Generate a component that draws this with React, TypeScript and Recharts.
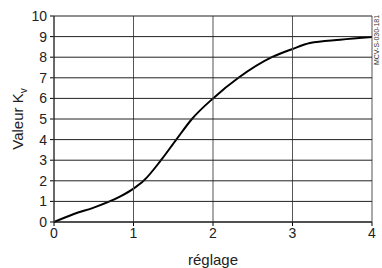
import { Label, Line, LineChart, XAxis, YAxis } from 'recharts';

const settings = [0, 0.25, 0.5, 0.835, 1.0, 1.127, 1.346, 1.538, 1.735, 2.0, 2.32, 2.74, 3.0, 3.22, 3.6, 4.0];
const kvValues = [0, 0.39, 0.7, 1.24, 1.62, 2, 3, 4, 5, 6, 7, 8, 8.4, 8.69, 8.85, 8.98];
const xTicks = [0, 1, 2, 3, 4];
const yTicks = [0, 1, 2, 3, 4, 5, 6, 7, 8, 9, 10];

const data = settings.map((s, i) => ({ reglage: s, kv: kvValues[i] }));

const font = '"Liberation Sans", Arial, sans-serif';
const W = 382;
const H = 268;
const M = { top: 16, right: 10, left: 0, bottom: 0 };
const Y_W = 54;
const X_H = 46;
const plotLeft = M.left + Y_W;
const plotRight = W - M.right;
const plotTop = M.top;
const plotBottom = H - M.bottom - X_H;

// grid lines are drawn with the ticks so horizontal and vertical can differ in tone
function YTick(props: any) {
  const { x, y, payload } = props;
  return (
    <g>
      <rect x={plotLeft} width={plotRight - plotLeft} y={y - 0.5} height={1} fill="#222" />
      <text x={x} y={y} dy="0.35em" textAnchor="end" fill="#222" fontSize={14} fontFamily={font}>
        {payload.value}
      </text>
    </g>
  );
}

function XTick(props: any) {
  const { x, y, payload } = props;
  return (
    <g>
      <rect x={x - 0.5} width={1} y={plotTop} height={plotBottom - plotTop} fill="#555" />
      <text x={x} y={y} dy="0.71em" textAnchor="middle" fill="#222" fontSize={14} fontFamily={font}>
        {payload.value}
      </text>
    </g>
  );
}

function YTitle() {
  return (
    <text x={0} y={0} transform="translate(23,119) rotate(-90)" textAnchor="middle" fontFamily={font} fontSize={15} fill="#222">
      <tspan>Valeur K</tspan>
      <tspan fontSize={10} dy={4}>v</tspan>
    </text>
  );
}

export default function App() {
  return (
    <div style={{ position: 'absolute', left: 0, top: 0, width: W, height: H, background: '#fff' }}>
      <LineChart width={W} height={H} data={data} margin={M}>
        <XAxis
          dataKey="reglage"
          type="number"
          domain={[0, 4]}
          ticks={xTicks}
          height={X_H}
          stroke="#000"
          tickSize={4}
          tickMargin={2}
          tick={<XTick />}
        >
          <Label value="réglage" position="insideBottom" offset={3} fill="#222" fontSize={15} fontFamily={font} />
        </XAxis>
        <YAxis
          type="number"
          domain={[0, 10]}
          ticks={yTicks}
          width={Y_W}
          stroke="#000"
          tickSize={4}
          tickMargin={3}
          interval={0}
          tick={<YTick />}
        >
          <Label content={<YTitle />} />
        </YAxis>
        <Line type="monotone" dataKey="kv" stroke="#000" strokeWidth={2} dot={false} isAnimationActive={false} />
        <text x={377} y={40} transform="rotate(-90 377 40)" textAnchor="middle" dominantBaseline="middle" fontFamily={font} fontSize={7} fill="#333">
          MCV-S-030-181
        </text>
      </LineChart>
    </div>
  );
}
